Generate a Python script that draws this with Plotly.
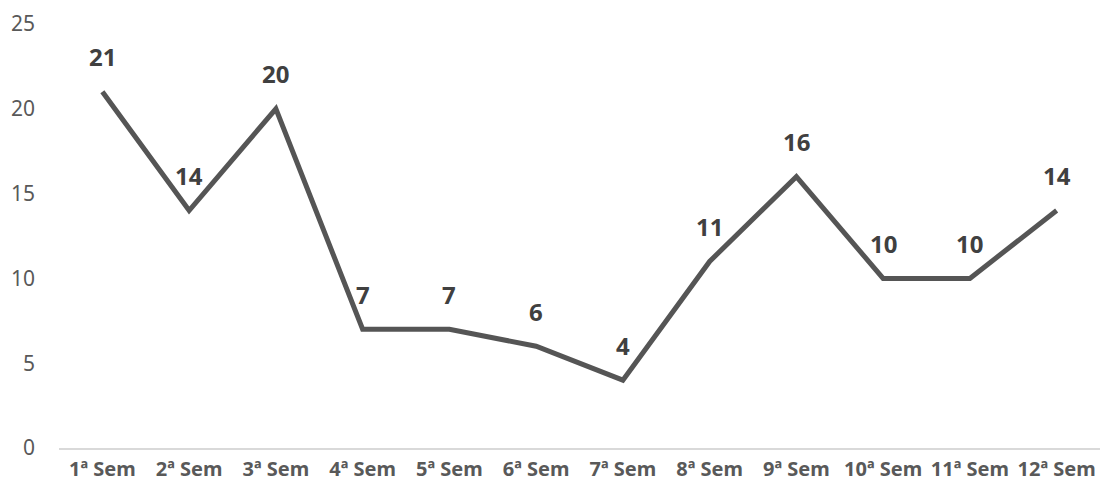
import plotly.graph_objects as go

semanas = ["1ª Sem", "2ª Sem", "3ª Sem", "4ª Sem", "5ª Sem", "6ª Sem",
           "7ª Sem", "8ª Sem", "9ª Sem", "10ª Sem", "11ª Sem", "12ª Sem"]
valores = [21, 14, 20, 7, 7, 6, 4, 11, 16, 10, 10, 14]
y_ticks = [0, 5, 10, 15, 20, 25]

FONT = "Noto Sans"

fig = go.Figure()
fig.add_trace(go.Scatter(
    x=semanas, y=valores, mode="lines",
    line=dict(color="#555555", width=5),
    hoverinfo="skip",
))

# value labels above each point
for s, v in zip(semanas, valores):
    fig.add_annotation(
        x=s, y=v, text=f"<b>{v}</b>", showarrow=False, yshift=35,
        font=dict(family=FONT, size=24, color="#404040"),
    )

fig.update_layout(
    width=1100, height=488,
    margin=dict(l=59, r=0, t=24, b=40),
    paper_bgcolor="white", plot_bgcolor="white",
    showlegend=False,
    font=dict(family=FONT),
)
fig.update_xaxes(
    type="category", range=[-0.5, 11.5],
    showgrid=False, showline=True, linecolor="#d9d9d9", linewidth=2,
    ticks="", tickfont=dict(family=FONT, size=20, color="#595959", weight="bold"),
    ticklabelstandoff=2,
)
fig.update_yaxes(
    range=[0, 25], tickvals=y_ticks, showgrid=False, zeroline=False,
    showline=False, ticks="",
    tickfont=dict(family=FONT, size=21, color="#595959"),
    ticklabelstandoff=23,
)

fig.write_html("out.html")
